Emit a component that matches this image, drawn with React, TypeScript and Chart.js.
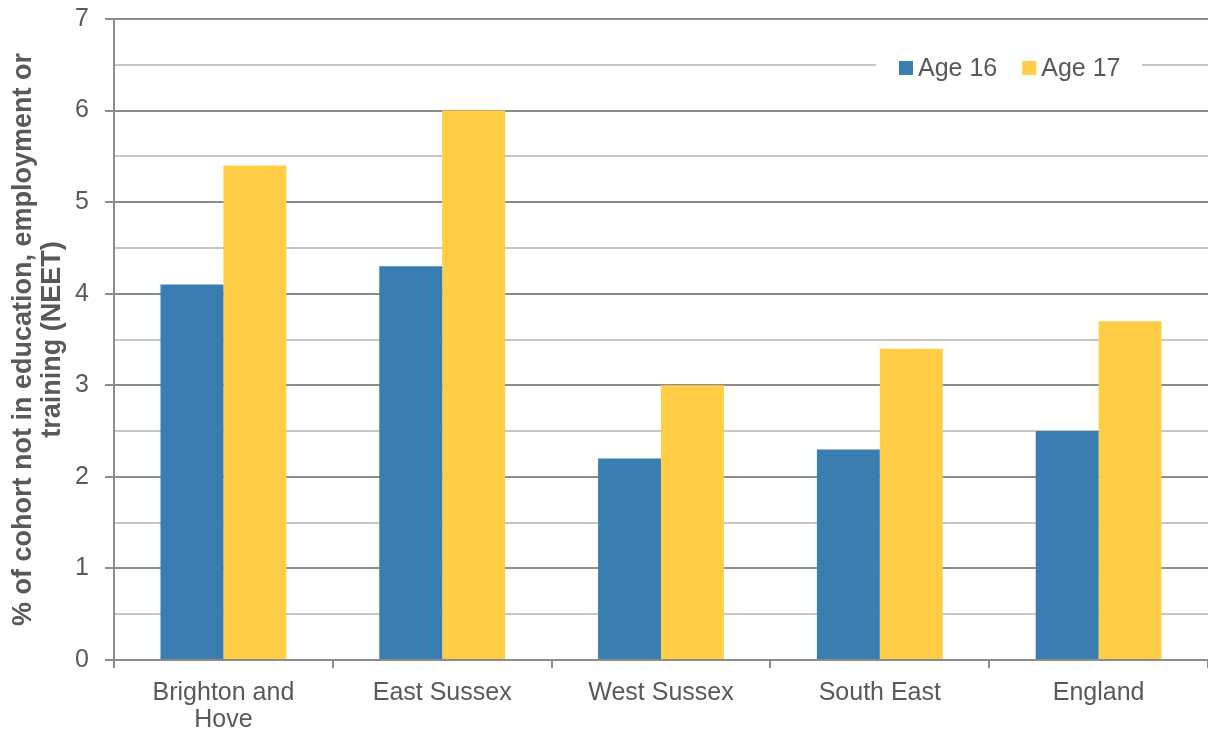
import React, { useEffect, useRef } from "react";
import { Chart, registerables } from "chart.js";

Chart.register(...registerables);

// Areas compared
const categories: (string | string[])[] = [
  ["Brighton and", "Hove"],
  "East Sussex",
  "West Sussex",
  "South East",
  "England",
];

// NEET share (%) by age
const age16: number[] = [4.1, 4.3, 2.2, 2.3, 2.5];
const age17: number[] = [5.4, 6.0, 3.0, 3.4, 3.7];

const seriesNames: string[] = ["Age 16", "Age 17"];
const yTitle: string[] = [
  "% of cohort not in education, employment or",
  "training (NEET)",
];

const BLUE = "#3a7db1";
const YELLOW = "#ffcd46";
const TEXT = "#595959";
const FONT = "'Liberation Sans', Arial, sans-serif";

// Legend drawn inside the plot area on a white panel
const insideLegend = {
  id: "insideLegend",
  afterDraw(chart: any) {
    const { ctx } = chart;
    ctx.save();
    ctx.fillStyle = "#ffffff";
    ctx.fillRect(876, 54, 266, 28);
    ctx.font = `25px ${FONT}`;
    ctx.textBaseline = "middle";
    let x = 899;
    chart.data.datasets.forEach((ds: any) => {
      ctx.fillStyle = ds.backgroundColor;
      ctx.fillRect(x, 61, 14, 14);
      ctx.fillStyle = TEXT;
      ctx.fillText(ds.label, x + 19, 69);
      x += 19 + ctx.measureText(ds.label).width + 25;
    });
    ctx.restore();
  },
};

export default function App() {
  const ref = useRef<HTMLCanvasElement>(null);

  useEffect(() => {
    if (!ref.current) return;
    const chart = new Chart(ref.current, {
      type: "bar",
      data: {
        labels: categories,
        datasets: [
          { label: seriesNames[0], data: age16, backgroundColor: BLUE },
          { label: seriesNames[1], data: age17, backgroundColor: YELLOW },
        ],
      },
      options: {
        animation: false,
        responsive: false,
        maintainAspectRatio: false,
        layout: { padding: { top: 19, right: 0, bottom: 0, left: 0 } },
        datasets: {
          bar: { barPercentage: 1, categoryPercentage: 0.575 },
        },
        plugins: {
          legend: { display: false },
          tooltip: { enabled: false },
        },
        scales: {
          x: {
            grid: {
              offset: true,
              drawOnChartArea: false,
              drawTicks: true,
              tickLength: 8,
              color: "#8c8c8c",
              lineWidth: 2,
            },
            border: { color: "#8c8c8c", width: 2 },
            ticks: {
              color: TEXT,
              font: { family: FONT, size: 25, lineHeight: 1.08 },
              padding: 12,
              maxRotation: 0,
              autoSkip: false,
            },
            afterFit: (s: any) => {
              s.height = 76;
            },
          },
          y: {
            min: 0,
            max: 7,
            ticks: {
              stepSize: 0.5,
              color: TEXT,
              font: { family: FONT, size: 25 },
              padding: 16,
              callback: (v: any) => (Number(v) % 1 === 0 ? String(v) : ""),
            },
            grid: {
              tickLength: 9,
              lineWidth: 2,
              color: (c: any) =>
                c.tick && c.tick.value % 1 === 0 ? "#8c8c8c" : "#c6c6c6",
              tickColor: (c: any) =>
                c.tick && c.tick.value % 1 === 0 ? "#8c8c8c" : "rgba(0,0,0,0)",
            },
            border: { color: "#8c8c8c", width: 2 },
            title: {
              display: true,
              text: yTitle,
              color: TEXT,
              font: { family: FONT, size: 27, weight: "bold", lineHeight: 1.07 },
              padding: { top: 9, bottom: 0 },
            },
            afterFit: (s: any) => {
              s.width = 114;
              s.paddingTop = 0;
              s.paddingBottom = 0;
            },
          },
        },
      },
      plugins: [insideLegend],
    });
    return () => chart.destroy();
  }, []);

  return (
    <div style={{ position: "absolute", left: 0, top: 0, width: 1208, height: 736, background: "#fff" }}>
      <canvas ref={ref} width={1208} height={736} style={{ width: 1208, height: 736 }} />
    </div>
  );
}
